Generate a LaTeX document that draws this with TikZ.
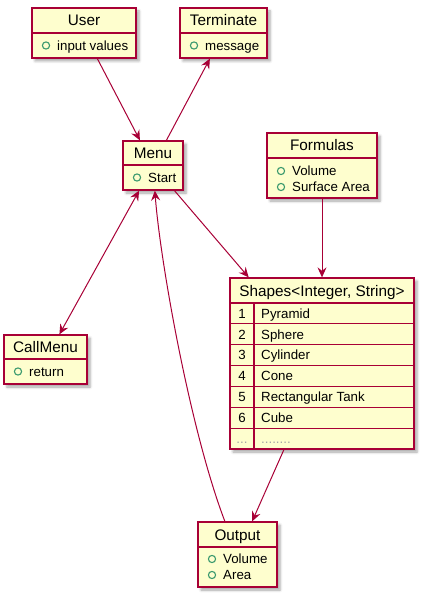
\documentclass[tikz,border=0pt]{standalone}
\usepackage{fontspec}
\setmainfont{Liberation Sans}
\usetikzlibrary{arrows.meta,shadows.blur}
\definecolor{umlborder}{HTML}{A80036}
\definecolor{umlfill}{HTML}{FEFECE}
\definecolor{umlgreen}{HTML}{3B9A6E}

\begin{document}
\begin{tikzpicture}[x=1pt,y=-1pt,
  >={Stealth[length=10pt,width=9pt,inset=3.5pt]},
  classbox/.style={draw=umlborder,fill=umlfill,line width=1.3pt,inner sep=0pt,
    blur shadow={shadow xshift=3pt,shadow yshift=-3pt,shadow blur radius=2.5pt,shadow opacity=35}},
  sepline/.style={draw=umlborder,line width=1.1pt},
  classtitle/.style={font=\fontsize{15.3}{18}\selectfont,inner sep=0pt,text height=11pt,text depth=0pt},
  field/.style={font=\fontsize{13.3}{16}\selectfont,inner sep=0pt,anchor=west,text height=9.5pt,text depth=0pt},
  fieldmark/.style={draw=umlgreen,line width=1.1pt},
  link/.style={draw=umlborder,line width=1pt}]
  \useasboundingbox (0,0) rectangle (422,601);

  % classes
  \node[classbox,minimum width=104pt,minimum height=50pt] (user) at (84,33) {};
  \draw[sepline] (32,33) -- (136,33);
  \node[classtitle] (usertitle) at (84,20.5) {User};
  \draw[fieldmark] (46,45.5) circle (3.6);
  \node[field] (userin) at (57,45.5) {input values};

  \node[classbox,minimum width=87pt,minimum height=50pt] (terminate) at (223.5,33) {};
  \draw[sepline] (180,33) -- (267,33);
  \node[classtitle] (termtitle) at (223.5,20.5) {Terminate};
  \draw[fieldmark] (194,45.5) circle (3.6);
  \node[field] (termmsg) at (205,45.5) {message};

  \node[classbox,minimum width=60pt,minimum height=49pt] (menu) at (153,165.5) {};
  \draw[sepline] (123,165) -- (183,165);
  \node[classtitle] (menutitle) at (153,153) {Menu};
  \draw[fieldmark] (137,177.5) circle (3.6);
  \node[field] (menustart) at (148,177.5) {Start};

  \node[classbox,minimum width=110pt,minimum height=65pt] (formulas) at (322,165.5) {};
  \draw[sepline] (267,158) -- (377,158);
  \node[classtitle] (formtitle) at (322,145.5) {Formulas};
  \draw[fieldmark] (281,171) circle (3.6);
  \node[field] (formvol) at (292,171) {Volume};
  \draw[fieldmark] (281,187) circle (3.6);
  \node[field] (formarea) at (292,187) {Surface Area};

  \node[classbox,minimum width=83pt,minimum height=49pt] (callmenu) at (45.5,359.5) {};
  \draw[sepline] (4,359) -- (87,359);
  \node[classtitle] (calltitle) at (45.5,347) {CallMenu};
  \draw[fieldmark] (18,371.5) circle (3.6);
  \node[field] (callret) at (29,371.5) {return};

  \node[classbox,minimum width=79pt,minimum height=65pt] (output) at (237.5,554.5) {};
  \draw[sepline] (198,547) -- (277,547);
  \node[classtitle] (outtitle) at (237.5,534.5) {Output};
  \draw[fieldmark] (212,559) circle (3.6);
  \node[field] (outvol) at (223,559) {Volume};
  \draw[fieldmark] (212,575) circle (3.6);
  \node[field] (outarea) at (223,575) {Area};

  % map of shapes
  \node[classbox,minimum width=184pt,minimum height=171pt] (shapes) at (322,363.5) {};
  \draw[sepline] (230,303) -- (414,303);
  \node[classtitle] (shapestitle) at (322,290.5) {Shapes<Integer, String>};
  \foreach \i in {1,...,6}
    \draw[sepline] (230,{303+20.86*\i}) -- (414,{303+20.86*\i});
  \draw[sepline] (254,303) -- (254,449);
  \foreach \k/\v [count=\i] in {1/Pyramid,2/Sphere,3/Cylinder,4/Cone,5/Rectangular Tank,6/Cube}{
    \node[field,anchor=center] (key\i) at (242,{303+20.86*(\i-0.5)}) {\k};
    \node[field] (val\i) at (261,{303+20.86*(\i-0.5)}) {\v};
  }
  \node[field,anchor=center,text=gray!70] (key7) at (242,438.5) {...};
  \node[field,text=gray!70] (val7) at (261,438.5) {........};

  % connectors
  \draw[link,->] (user) -- (menu);
  \draw[link,->] (menu) -- (terminate);
  \draw[link,->] (menu) -- (shapes);
  \draw[link,->] (formulas) -- (shapes);
  \draw[link,<->] (menu) -- (callmenu);
  \draw[link,->] (shapes) -- (output);
  \draw[link,->] (output) .. controls (190,430) and (160,260) .. (menu);
\end{tikzpicture}
\end{document}
